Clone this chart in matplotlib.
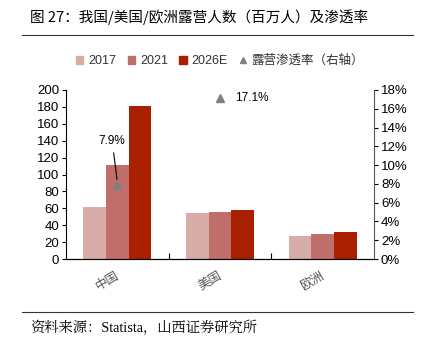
import numpy as np
import matplotlib
matplotlib.use('Agg')
import matplotlib.pyplot as plt
from matplotlib.lines import Line2D
from matplotlib.patches import Patch

plt.rcParams['font.family'] = ['Liberation Sans', 'Noto Sans CJK SC', 'DejaVu Sans']

# Dados
regioes = ['中国', '美国', '欧洲']
anos = ['2017', '2021', '2026E']
pessoas = [
    [62, 55, 27],     # 2017
    [111, 56, 30],    # 2021
    [181, 57.5, 32],  # 2026E
]
penetracao = [7.9, 17.1, np.nan]  # % (eixo direito)
cores = ['#d8aca9', '#c06e6a', '#a92000']

fig = plt.figure(figsize=(4.22, 3.51), dpi=100)
ax = fig.add_axes([66/422, 1 - 259/351, 308/422, 169/351])

x = np.arange(len(regioes))
w = 0.22
for i, ano in enumerate(anos):
    ax.bar(x + (i - 1) * w, pessoas[i], width=w, color=cores[i], label=ano, zorder=2)

ax.set_xlim(-0.5, 2.5)
ax.set_ylim(0, 200)
ax.set_yticks(range(0, 201, 20))
ax.tick_params(axis='y', labelsize=9.5, length=3, direction='out', pad=2)
ax.set_xticks([0.5, 1.5])
ax.set_xticklabels([])
ax.tick_params(axis='x', length=4, direction='in')
for xi, r in zip(x, regioes):
    ax.text(xi - 0.1, -12, r, rotation=30, ha='center', va='top', fontsize=9,
            color='#555555', family=['Noto Sans CJK SC'])
ax.spines['top'].set_visible(False)
ax.spines['right'].set_visible(False)

ax2 = ax.twinx()
ax2.set_ylim(0, 18)
ax2.set_yticks(range(0, 19, 2))
ax2.set_yticklabels(['%d%%' % v for v in range(0, 19, 2)])
ax2.tick_params(axis='y', labelsize=9.5, length=3, pad=2)
ax2.spines['top'].set_visible(False)
ax2.spines['left'].set_visible(False)
ax2.spines['right'].set_color('#555555')
ax2.plot(x, penetracao, linestyle='none', marker='^', markersize=6, color='#808080', zorder=3)

# Rótulos da penetração
ax2.annotate('7.9%', xy=(x[0], penetracao[0] + 0.3), xytext=(x[0] - 0.05, 11.9),
             ha='center', va='bottom', fontsize=8.5,
             arrowprops=dict(arrowstyle='-', color='black', lw=0.8))
ax2.text(x[1] + 0.15, penetracao[1], '17.1%', ha='left', va='center', fontsize=8.5)

# Legenda
handles = [Patch(color=c, label=a) for c, a in zip(cores, anos)]
handles.append(Line2D([], [], linestyle='none', marker='^', markersize=5,
                      color='#808080', label='露营渗透率（右轴）'))
fig.legend(handles=handles, loc='center', bbox_to_anchor=(1 - 202/422, 1 - 61/351), ncol=4,
           frameon=False, fontsize=9, handlelength=0.6, handleheight=0.6,
           handletextpad=0.4, columnspacing=0.9, labelcolor='#333333')

# Título e fonte
fig.text(30/422, 1 - 17/351, '图 27：我国/美国/欧洲露营人数（百万人）及渗透率',
         fontsize=10.5, va='center', ha='left', family=['Noto Sans CJK SC'])
fig.add_artist(Line2D([22/422, 413/422], [1 - 35/351] * 2, color='#333333', lw=0.8))
fig.add_artist(Line2D([22/422, 413/422], [1 - 312/351] * 2, color='#333333', lw=0.8))
fig.text(30/422, 1 - 328/351, '资料来源：Statista，山西证券研究所',
         fontsize=10.3, va='center', ha='left', family=['Liberation Serif', 'Noto Serif CJK SC', 'Noto Sans CJK SC'])

fig.savefig('out.png', dpi=100)
